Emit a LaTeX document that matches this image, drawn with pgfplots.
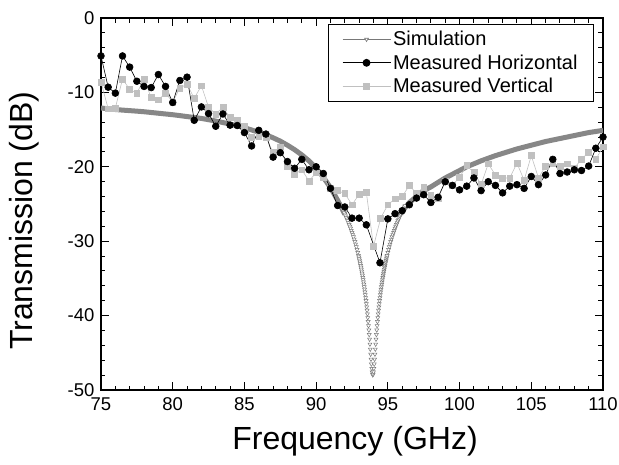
\documentclass[border=0pt]{standalone}
\usepackage{fontspec}
\setmainfont{Liberation Sans}
\usepackage{pgfplots}
\pgfplotsset{compat=1.18}
\definecolor{simband}{RGB}{135,135,135}
\definecolor{simtri}{RGB}{120,120,120}
\definecolor{vgray}{RGB}{192,192,192}
\begin{document}
\begin{tikzpicture}
\path[use as bounding box] (-101bp,-75bp) rectangle (518bp,390bp);
\begin{axis}[
  at={(0,0)}, anchor=south west,
  scale only axis, width=502bp, height=372bp,
  xmin=75, xmax=110, ymin=-50, ymax=0,
  xtick={75,80,...,110}, ytick={-50,-40,...,0},
  minor x tick num=4, minor y tick num=4,
  tick align=inside, major tick length=8bp, minor tick length=4.5bp,
  xtick pos=both, ytick pos=both, ticklabel pos=left,
  axis line style={line width=1.5bp},
  every tick/.style={black, line width=1bp},
  /pgf/number format/assume math mode=true,
  tick label style={font=\fontsize{18.5bp}{22bp}\selectfont},
  xticklabel style={yshift=-4bp},
  yticklabel style={xshift=-3bp},
  xlabel={Frequency (GHz)}, ylabel={Transmission (dB)},
  label style={font=\fontsize{32bp}{38bp}\selectfont},
  xlabel style={at={(axis description cs:0.506,-0.137)}, anchor=center},
  ylabel style={at={(axis description cs:-0.152,0.455)}, anchor=center},
  legend style={at={(rel axis cs:0.982,0.984)}, anchor=north east, draw=black, line width=0.8bp,
     fill=white, font=\fontsize{20bp}{24bp}\selectfont, row sep=3.5bp, inner xsep=14bp, inner ysep=5bp},
  legend cell align=left,
  legend image code/.code={\draw[mark repeat=2,mark phase=2,#1] plot coordinates {(0bp,0bp) (24bp,0bp) (48bp,0bp)};},
]
% simulation band (dense markers merge into a band)
\addplot[color=simband, line width=5bp, line join=round, forget plot] coordinates {
(75,-12.1)(75.5,-12.2)(76,-12.3)(76.5,-12.38)(77,-12.45)(77.5,-12.52)(78,-12.6)(78.5,-12.7)
(79,-12.8)(79.5,-12.9)(80,-13.0)(80.5,-13.12)(81,-13.25)(81.5,-13.37)(82,-13.5)(82.5,-13.67)
(83,-13.85)(83.5,-14.05)(84,-14.25)(84.5,-14.5)(85,-14.75)(85.5,-15.05)(86,-15.35)(86.5,-15.7)
(87,-16.1)(87.5,-16.55)(88,-17.1)(88.5,-17.7)(89,-18.4)(89.5,-19.2)(90,-20.2)(90.5,-21.4)
(91,-22.8)(91.5,-24.5)(91.75,-25.42)(92,-26.39)};
\addplot[color=simband, line width=5bp, line join=round, forget plot] coordinates {
(95.9,-26.39)(96.0,-25.99)(96.5,-24.8)(97,-24.0)(97.5,-23.2)(98,-22.7)(98.5,-22.1)(99,-21.5)
(99.5,-21.0)(100,-20.5)(100.5,-20.0)(101,-19.6)(101.5,-19.2)(102,-18.85)(102.5,-18.5)(103,-18.2)
(103.5,-17.9)(104,-17.6)(104.5,-17.35)(105,-17.1)(105.5,-16.85)(106,-16.6)(106.5,-16.4)(107,-16.2)
(107.5,-16.0)(108,-15.8)(108.5,-15.6)(109,-15.4)(109.5,-15.25)(110,-15.1)};
% simulation, dip region, individual triangles
\addplot[only marks, mark=triangle*, mark size=2.3bp,
  mark options={rotate=180, draw=simtri, fill=white, line width=0.5bp}, forget plot] coordinates {
(91.70,-25.24)(91.75,-25.42)(91.80,-25.60)(91.85,-25.79)(91.90,-25.99)(91.95,-26.18)(92.00,-26.39)
(92.05,-26.60)(92.10,-26.82)(92.15,-27.04)(92.20,-27.27)(92.25,-27.51)(92.30,-27.76)(92.35,-28.01)
(92.40,-28.27)(92.45,-28.55)(92.50,-28.83)(92.55,-29.12)(92.60,-29.42)(92.65,-29.73)(92.70,-30.06)
(92.75,-30.40)(92.80,-30.76)(92.85,-31.13)(92.90,-31.52)
(92.95,-31.92)(92.975,-32.13)(93.0,-32.35)(93.025,-32.57)(93.05,-32.80)(93.075,-33.03)(93.1,-33.27)
(93.125,-33.52)(93.15,-33.78)(93.175,-34.04)(93.2,-34.31)(93.225,-34.59)(93.25,-34.88)(93.275,-35.17)
(93.3,-35.48)(93.325,-35.80)(93.35,-36.14)(93.375,-36.47)(93.4,-36.83)(93.425,-37.20)(93.45,-37.59)
(93.475,-37.99)(93.5,-38.41)(93.525,-38.84)(93.55,-39.30)(93.575,-39.78)(93.6,-40.28)(93.625,-40.81)
(93.65,-41.36)(93.675,-41.94)(93.7,-42.55)(93.725,-43.18)(93.75,-43.84)(93.775,-44.51)(93.8,-45.19)
(93.825,-45.87)(93.85,-46.52)(93.875,-47.10)(93.9,-47.57)(93.925,-47.87)(93.95,-47.98)
(93.975,-47.87)(94.0,-47.57)(94.025,-47.10)(94.05,-46.52)(94.075,-45.87)(94.1,-45.19)(94.125,-44.51)
(94.15,-43.84)(94.175,-43.18)(94.2,-42.55)(94.225,-41.94)(94.25,-41.36)(94.275,-40.81)(94.3,-40.28)
(94.325,-39.78)(94.35,-39.30)(94.375,-38.84)(94.4,-38.41)(94.425,-37.99)(94.45,-37.59)(94.475,-37.20)
(94.5,-36.83)(94.525,-36.47)(94.55,-36.14)(94.575,-35.80)(94.6,-35.48)(94.625,-35.17)(94.65,-34.88)
(94.675,-34.59)(94.7,-34.31)(94.725,-34.04)(94.75,-33.78)(94.775,-33.52)(94.8,-33.27)(94.825,-33.03)
(94.85,-32.80)(94.875,-32.57)(94.9,-32.35)(94.925,-32.13)(94.95,-31.92)
(95.00,-31.52)(95.05,-31.13)(95.10,-30.76)(95.15,-30.40)(95.20,-30.06)(95.25,-29.73)(95.30,-29.42)
(95.35,-29.12)(95.40,-28.83)(95.45,-28.55)(95.50,-28.27)(95.55,-28.01)(95.60,-27.76)(95.65,-27.51)
(95.70,-27.27)(95.75,-27.04)(95.80,-26.82)(95.85,-26.60)(95.90,-26.39)(95.95,-26.18)(96.00,-25.99)
(96.05,-25.79)(96.10,-25.60)(96.15,-25.42)(96.20,-25.24)};
% measured vertical
\addplot[color=vgray, line width=0.6bp, mark=square*, mark size=2.9bp,
  mark options={fill=vgray, draw=vgray}, forget plot] coordinates {
(75,-8.6)(75.5,-12.2)(76,-12.1)(76.5,-8.2)(77,-9.6)(77.5,-10.1)(78,-8.2)(78.5,-10.7)
(79,-11.0)(79.5,-10.1)(80,-11.3)(80.5,-9.4)(81,-8.9)(81.5,-10.8)(82,-9.1)(82.5,-12.0)
(83,-12.9)(83.5,-12.0)(84,-13.4)(84.5,-13.7)(85,-14.6)(85.5,-16.0)(86,-15.9)(86.5,-16.0)
(87,-18.1)(87.5,-17.3)(88,-19.9)(88.5,-21.0)(89,-20.4)(89.5,-21.9)(90,-20.8)(90.5,-21.4)
(91,-22.9)(91.5,-23.2)(92,-23.6)(92.5,-25.1)(93,-23.7)(93.5,-23.45)(94,-30.7)(94.5,-26.9)
(95,-25.1)(95.5,-24.3)(96,-24.0)(96.5,-22.5)(97,-23.6)(97.5,-22.75)(98,-23.8)(98.5,-24.2)
(99,-21.9)(99.5,-22.5)(100,-21.4)(100.5,-19.85)(101,-20.75)(101.5,-22.4)(102,-19.6)(102.5,-21.1)
(103,-21.5)(103.5,-21.5)(104,-19.5)(104.5,-21.8)(105,-18.5)(105.5,-21.5)(106,-19.9)(106.5,-19.5)
(107,-19.9)(107.5,-19.6)(108,-20.2)(108.5,-18.95)(109,-18.1)(109.5,-19.0)(110,-17.3)};
% measured horizontal
\addplot[color=black, line width=0.6bp, mark=*, mark size=3.4bp,
  mark options={fill=black}, forget plot] coordinates {
(75,-5.1)(75.5,-9.3)(76,-10.1)(76.5,-5.1)(77,-6.6)(77.5,-8.5)(78,-9.2)(78.5,-9.35)
(79,-7.6)(79.5,-9.2)(80,-11.35)(80.5,-8.4)(81,-7.95)(81.5,-13.75)(82,-11.95)(82.5,-12.85)
(83,-14.55)(83.5,-12.9)(84,-14.4)(84.5,-14.45)(85,-15.4)(85.5,-17.2)(86,-15.1)(86.5,-15.6)
(87,-18.7)(87.5,-18.1)(88,-19.3)(88.5,-20.2)(89,-19.0)(89.5,-20.4)(90,-20.0)(90.5,-20.9)
(91,-22.9)(91.5,-25.2)(92,-25.4)(92.5,-26.9)(93,-26.9)(93.5,-27.8)(94.45,-32.9)
(95,-27.0)(95.5,-26.3)(96,-25.9)(96.5,-25.1)(97,-24.2)(97.5,-23.75)(98,-24.8)(98.5,-24.1)
(99,-22.0)(99.5,-22.5)(100,-23.1)(100.5,-22.6)(101,-21.5)(101.5,-23.2)(102,-22.0)(102.5,-22.5)
(103,-23.5)(103.5,-22.6)(104,-22.4)(104.5,-22.9)(105,-21.3)(105.5,-22.4)(106,-21.1)(106.5,-19.0)
(107,-20.9)(107.5,-20.7)(108,-20.4)(108.5,-20.5)(109,-19.9)(109.5,-17.5)(110,-16.0)};
% legend entries
\addlegendimage{color=simtri, line width=0.6bp, mark=triangle*, mark size=2.2bp, mark options={rotate=180, fill=white, draw=simtri}}
\addlegendentry{Simulation}
\addlegendimage{color=black, line width=1bp, mark=*, mark size=3.4bp, mark options={fill=black}}
\addlegendentry{Measured Horizontal}
\addlegendimage{color=vgray, line width=0.6bp, mark=square*, mark size=2.9bp, mark options={fill=vgray, draw=vgray}}
\addlegendentry{Measured Vertical}
\end{axis}
\end{tikzpicture}
\end{document}
